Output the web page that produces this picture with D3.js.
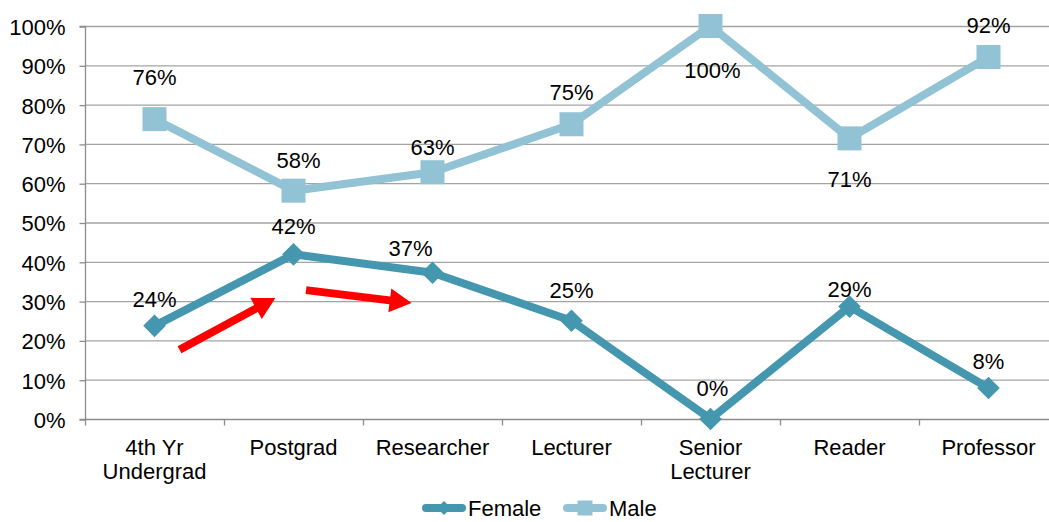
<!DOCTYPE html>
<html>
<head>
<meta charset="utf-8">
<script src="https://cdn.jsdelivr.net/npm/d3@7"></script>
<style>
	body { margin: 0; background: #fff; }
	text { font-family: "Liberation Sans", Arial, sans-serif; fill: #000; }
</style>
</head>
<body>
<div id="chart"></div>
<script>
// categories and series (percent)
var categories = [["4th Yr", "Undergrad"], ["Postgrad"], ["Researcher"], ["Lecturer"], ["Senior", "Lecturer"], ["Reader"], ["Professor"]];
var femaleValues = [23.7, 41.9, 37.2, 25.0, 0.0, 28.6, 7.9];
var maleValues = [76.3, 58.1, 62.8, 75.0, 100.0, 71.4, 92.1];
var yTicks = [0, 10, 20, 30, 40, 50, 60, 70, 80, 90, 100];

// red annotation arrows: [category index, percent] from -> to
var arrows = [
	[[0.18, 17.6], [0.87, 30.8]],
	[[1.09, 32.8], [1.85, 29.5]]
];

// label offsets (dx, dy in px from the point)
var femaleLabelOffset = [[0, -27], [0, -28], [-22, -25], [0, -31], [2, -31], [0, -18], [0, -27]];
var maleLabelOffset = [[0, -42], [5, -31], [0, -25], [0, -32], [2, 44], [0, 41], [0, -32]];

var femaleColor = '#4497ae';
var maleColor = '#92c3d5';
var fontSize = "22px";

var width = 1049, height = 522;

var svg = d3.select("#chart")
	.append("svg")
	.attr("width", width)
	.attr("height", height);

var x = d3.scaleBand()
	.domain(d3.range(categories.length))
	.range([85, 1058])
	.padding(0);

var cx = (i) => x(i) + x.bandwidth() / 2;
var xi = d3.scaleLinear().domain([0, categories.length - 1]).range([cx(0), cx(categories.length - 1)]);

var y = d3.scaleLinear()
	.domain([0, 100])
	.range([419, 26]);

// gridlines
svg.append("g")
	.selectAll("line")
	.data(yTicks.filter(d => d > 0))
	.join("line")
	.attr("x1", 85).attr("x2", width)
	.attr("y1", d => y(d) + 0.5).attr("y2", d => y(d) + 0.5)
	.attr("stroke", "#a3a3a3")
	.attr("stroke-width", 1.3);

// y axis
var yAxis = svg.append("g")
	.attr("transform", "translate(85.5,0.5)")
	.call(d3.axisLeft(y).tickValues(yTicks).tickSize(6).tickFormat(d => d + "%"));
yAxis.select(".domain").attr("stroke", "#8c8c8c").attr("stroke-width", 1.3).attr("d", "M-6," + y(0) + "H0V" + y(100) + "H-6");
yAxis.selectAll(".tick line").attr("stroke", "#8c8c8c").attr("stroke-width", 1.3);
yAxis.selectAll(".tick text")
	.attr("x", -20)
	.attr("dy", "0.36em")
	.style("font-size", fontSize)
	.style("font-family", '"Liberation Sans", Arial, sans-serif')
	.attr("fill", "#000");

// x axis
var xAxis = svg.append("g").attr("transform", "translate(0," + (y(0) + 0.5) + ")");
xAxis.append("line")
	.attr("x1", 85).attr("x2", width)
	.attr("stroke", "#8c8c8c").attr("stroke-width", 1.3);
xAxis.selectAll(".xtick")
	.data(d3.range(categories.length + 1))
	.join("line")
	.attr("class", "xtick")
	.attr("x1", d => (d < categories.length ? x(d) : x(d - 1) + x.bandwidth()) + 0.5)
	.attr("x2", d => (d < categories.length ? x(d) : x(d - 1) + x.bandwidth()) + 0.5)
	.attr("y1", 0).attr("y2", 6)
	.attr("stroke", "#8c8c8c").attr("stroke-width", 1.3);

var xLabels = xAxis.selectAll(".xlabel")
	.data(categories)
	.join("text")
	.attr("class", "xlabel")
	.attr("text-anchor", "middle")
	.attr("transform", (d, i) => "translate(" + cx(i) + ",0)")
	.style("font-size", fontSize);
xLabels.selectAll("tspan")
	.data(d => d)
	.join("tspan")
	.attr("x", 0)
	.attr("y", (d, i) => 35 + i * 24)
	.text(d => d);

// lines
var line = d3.line().x((d, i) => cx(i)).y(d => y(d));

function drawSeries(values, color, symbolType, size) {
	svg.append("path")
		.datum(values)
		.attr("d", line)
		.attr("fill", "none")
		.attr("stroke", color)
		.attr("stroke-width", 8)
		.attr("stroke-linejoin", "round");
	svg.append("g")
		.selectAll("path")
		.data(values)
		.join("path")
		.attr("transform", (d, i) => "translate(" + cx(i) + "," + y(d) + ")" + (symbolType == "diamond" ? " rotate(45)" : ""))
		.attr("d", d => "M" + (-size / 2) + "," + (-size / 2) + "h" + size + "v" + size + "h" + (-size) + "Z")
		.attr("fill", color);
}

drawSeries(maleValues, maleColor, "square", 24);
drawSeries(femaleValues, femaleColor, "diamond", 16);

// data labels
function drawLabels(values, offsets) {
	svg.append("g")
		.selectAll("text")
		.data(values)
		.join("text")
		.attr("x", (d, i) => cx(i) + offsets[i][0])
		.attr("y", (d, i) => y(d) + offsets[i][1])
		.attr("dy", "0.36em")
		.attr("text-anchor", "middle")
		.style("font-size", fontSize)
		.text(d => Math.round(d) + "%");
}
drawLabels(maleValues, maleLabelOffset);
drawLabels(femaleValues, femaleLabelOffset);

// red arrows
function arrowPath(a, b) {
	var x0 = xi(a[0]), y0 = y(a[1]), x1 = xi(b[0]), y1 = y(b[1]);
	var dx = x1 - x0, dy = y1 - y0, len = Math.sqrt(dx * dx + dy * dy);
	var ux = dx / len, uy = dy / len, nx = -uy, ny = ux;
	var shaft = 4, head = 12, headLen = 22;
	var bx = x1 - ux * headLen, by = y1 - uy * headLen;
	var pts = [
		[x0 + nx * shaft, y0 + ny * shaft],
		[bx + nx * shaft, by + ny * shaft],
		[bx + nx * head, by + ny * head],
		[x1, y1],
		[bx - nx * head, by - ny * head],
		[bx - nx * shaft, by - ny * shaft],
		[x0 - nx * shaft, y0 - ny * shaft]
	];
	return "M" + pts.map(p => p.join(",")).join("L") + "Z";
}
svg.append("g")
	.selectAll("path")
	.data(arrows)
	.join("path")
	.attr("d", d => arrowPath(d[0], d[1]))
	.attr("fill", "#ff0000");

// legend
var legend = svg.append("g").attr("transform", "translate(0,508)");
var legendItems = [
	{ name: "Female", color: femaleColor, type: "diamond", x: 422, size: 10 },
	{ name: "Male", color: maleColor, type: "square", x: 563, size: 15 }
];
var li = legend.selectAll("g").data(legendItems).join("g")
	.attr("transform", d => "translate(" + d.x + ",0)");
li.append("line")
	.attr("x1", 4).attr("x2", 40)
	.attr("stroke", d => d.color)
	.attr("stroke-width", 8)
	.attr("stroke-linecap", "round");
li.append("path")
	.attr("transform", d => "translate(22,0)" + (d.type == "diamond" ? " rotate(45)" : ""))
	.attr("d", d => "M" + (-d.size / 2) + "," + (-d.size / 2) + "h" + d.size + "v" + d.size + "h" + (-d.size) + "Z")
	.attr("fill", d => d.color);
li.append("text")
	.attr("x", 46)
	.attr("dy", "0.36em")
	.style("font-size", fontSize)
	.text(d => d.name);
</script>
</body>
</html>
